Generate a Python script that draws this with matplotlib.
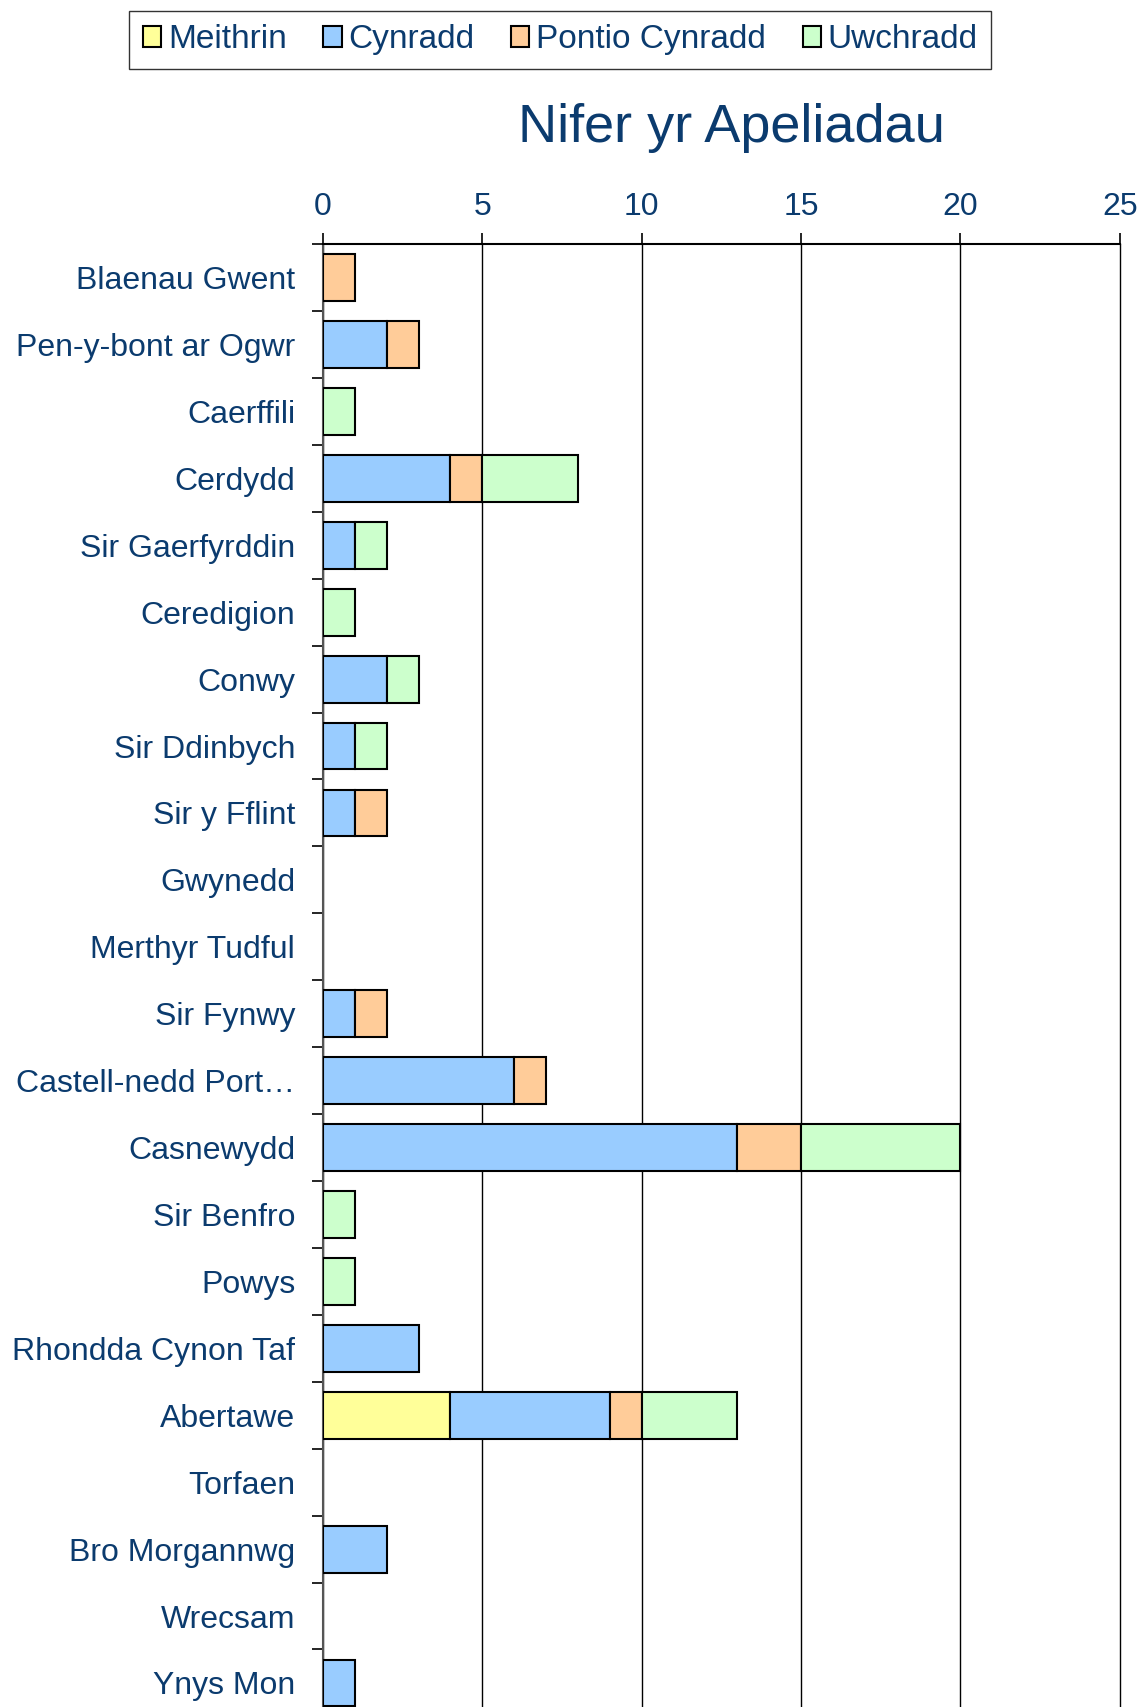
import matplotlib.pyplot as plt
import numpy as np

# ardaloedd (categories, top to bottom)
ardaloedd = ["Blaenau Gwent", "Pen-y-bont ar Ogwr", "Caerffili", "Cerdydd",
             "Sir Gaerfyrddin", "Ceredigion", "Conwy", "Sir Ddinbych",
             "Sir y Fflint", "Gwynedd", "Merthyr Tudful", "Sir Fynwy",
             "Castell-nedd Port\u2026", "Casnewydd", "Sir Benfro", "Powys",
             "Rhondda Cynon Taf", "Abertawe", "Torfaen", "Bro Morgannwg",
             "Wrecsam", "Ynys Mon"]

meithrin = [0, 0, 0, 0, 0, 0, 0, 0, 0, 0, 0, 0, 0, 0, 0, 0, 0, 4, 0, 0, 0, 0]
cynradd  = [0, 2, 0, 4, 1, 0, 2, 1, 1, 0, 0, 1, 6, 13, 0, 0, 3, 5, 0, 2, 0, 1]
pontio   = [1, 1, 0, 1, 0, 0, 0, 0, 1, 0, 0, 1, 1, 2, 0, 0, 0, 1, 0, 0, 0, 0]
uwchradd = [0, 0, 1, 3, 1, 1, 1, 1, 0, 0, 0, 0, 0, 5, 1, 1, 0, 3, 0, 0, 0, 0]

series = [("Meithrin", meithrin, "#FFFF99"),
          ("Cynradd", cynradd, "#99CCFF"),
          ("Pontio Cynradd", pontio, "#FFCC99"),
          ("Uwchradd", uwchradd, "#CCFFCC")]

navy = "#0B3B6E"
plt.rcParams['font.family'] = ['Liberation Sans', 'DejaVu Sans']

fig = plt.figure(figsize=(11.41, 17.07), dpi=100)
ax = fig.add_axes([0.283, -0.0055, 0.6985, 0.8625])

y = np.arange(len(ardaloedd))
left = np.zeros(len(ardaloedd))
for name, vals, col in series:
    vals = np.array(vals, dtype=float)
    m = vals > 0
    ax.barh(y[m], vals[m], left=left[m], height=0.7, color=col,
            edgecolor="black", linewidth=1.5, zorder=3)
    ax.barh([np.nan], [np.nan], color=col, edgecolor="black", linewidth=1.5, label=name)
    left += vals

ax.set_xlim(0, 25)
ax.set_ylim(len(ardaloedd) - 0.5, -0.5)
ax.xaxis.tick_top()
ax.set_xticks([0, 5, 10, 15, 20, 25])
ax.tick_params(axis="x", labelsize=23, labelcolor=navy, length=8, width=1.2, pad=8)
ax.set_yticks(y)
ax.set_yticklabels(ardaloedd)
ax.set_yticks(np.arange(len(ardaloedd) + 1) - 0.5, minor=True)
ax.tick_params(axis="y", which="major", length=0, labelsize=23, labelcolor=navy, pad=20)
ax.tick_params(axis="y", which="minor", length=8, width=1.2)
ax.grid(axis="x", color="black", linewidth=1.0, zorder=0)
for gl in ax.get_xgridlines():
    gl.set_clip_on(False)
for s in ["right", "bottom"]:
    ax.spines[s].set_visible(False)
ax.spines["top"].set_linewidth(1.5)
ax.spines["left"].set_color("#555555")
ax.spines["left"].set_linewidth(1.5)

fig.text(0.641, 0.925, "Nifer yr Apeliadau", fontsize=39, color=navy,
         ha="center", va="center")

leg = fig.legend(loc="upper center", bbox_to_anchor=(0.491, 0.9936), ncol=4,
                 fontsize=24, frameon=True, fancybox=False, handlelength=0.55,
                 handleheight=0.55, handletextpad=0.2, columnspacing=1.1,
                 borderpad=0.4, borderaxespad=0)
leg.get_frame().set_edgecolor("black")
leg.get_frame().set_linewidth(1.0)
for t in leg.get_texts():
    t.set_color(navy)

fig.savefig("out.png", dpi=100)
